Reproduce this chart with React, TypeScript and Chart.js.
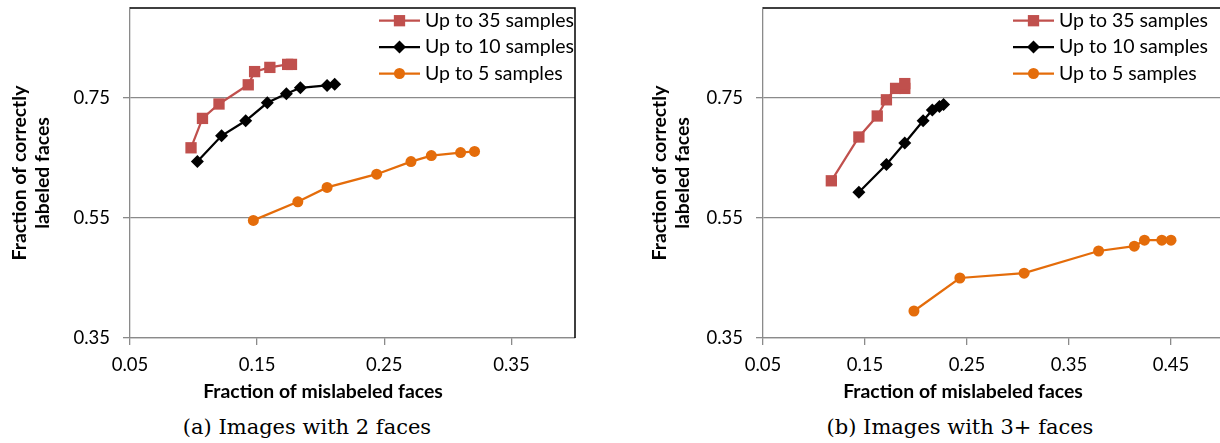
import React, { useEffect, useRef } from 'react';
import { Chart, registerables } from 'chart.js';

Chart.register(...registerables);

// ---------- data ----------
const seriesNames = ['Up to 35 samples', 'Up to 10 samples', 'Up to 5 samples'];

// (a) Images with 2 faces
const a35x = [0.098, 0.107, 0.120, 0.143, 0.148, 0.160, 0.174, 0.177];
const a35y = [0.667, 0.716, 0.740, 0.772, 0.794, 0.801, 0.806, 0.806];
const a10x = [0.103, 0.122, 0.141, 0.158, 0.173, 0.184, 0.205, 0.211];
const a10y = [0.644, 0.687, 0.712, 0.742, 0.757, 0.767, 0.771, 0.773];
const a5x = [0.147, 0.182, 0.205, 0.244, 0.271, 0.287, 0.310, 0.321];
const a5y = [0.546, 0.577, 0.601, 0.623, 0.644, 0.654, 0.659, 0.661];

// (b) Images with 3+ faces
const b35x = [0.117, 0.144, 0.162, 0.171, 0.180, 0.189, 0.189];
const b35y = [0.612, 0.685, 0.720, 0.747, 0.766, 0.766, 0.774];
const b10x = [0.144, 0.171, 0.189, 0.207, 0.216, 0.223, 0.227];
const b10y = [0.593, 0.639, 0.675, 0.712, 0.730, 0.736, 0.739];
const b5x = [0.198, 0.243, 0.306, 0.379, 0.414, 0.424, 0.441, 0.450];
const b5y = [0.395, 0.450, 0.458, 0.495, 0.503, 0.513, 0.513, 0.513];

const xTicksA = [0.05, 0.15, 0.25, 0.35];
const xTicksB = [0.05, 0.15, 0.25, 0.35, 0.45];
const yTicks = [0.35, 0.55, 0.75];

const xTitle = 'Fraction of mislabeled faces';
const yTitle = ['Fraction of correctly', 'labeled faces'];
const captionA = '(a) Images with 2 faces';
const captionB = '(b) Images with 3+ faces';

// ---------- styles ----------
const RED = '#C0504D';
const BLACK = '#000000';
const ORANGE = '#E46C0A';
const GRID = '#8a8a8a';
const FONT = 'Lato, "Noto Sans", sans-serif';

const zip = (xs: number[], ys: number[]) => xs.map((x, i) => ({ x, y: ys[i] }));

const seriesStyles = [
  { color: RED, pointStyle: 'rect', radius: 8 },
  { color: BLACK, pointStyle: 'rectRot', radius: 6.5 },
  { color: ORANGE, pointStyle: 'circle', radius: 5.5 },
];

function drawMarker(ctx: CanvasRenderingContext2D, style: string, x: number, y: number, r: number) {
  ctx.beginPath();
  if (style === 'rect') {
    const s = Math.SQRT1_2 * r;
    ctx.rect(x - s, y - s, 2 * s, 2 * s);
  } else if (style === 'rectRot') {
    ctx.moveTo(x - r, y);
    ctx.lineTo(x, y - r);
    ctx.lineTo(x + r, y);
    ctx.lineTo(x, y + r);
    ctx.closePath();
  } else {
    ctx.arc(x, y, r, 0, Math.PI * 2);
  }
  ctx.fill();
}

const framePlugin = {
  id: 'frameBorder',
  afterDatasetsDraw(chart: any) {
    const { ctx, chartArea } = chart;
    ctx.save();
    ctx.strokeStyle = '#000';
    ctx.lineWidth = 1.5;
    ctx.beginPath();
    ctx.moveTo(chartArea.left, chartArea.top);
    ctx.lineTo(chartArea.right, chartArea.top);
    ctx.lineTo(chartArea.right, chartArea.bottom);
    ctx.stroke();
    ctx.restore();
  },
};

const legendPlugin = {
  id: 'insideLegend',
  afterDraw(chart: any, _args: any, opts: any) {
    const { ctx } = chart;
    ctx.save();
    chart.data.datasets.forEach((ds: any, i: number) => {
      const st = seriesStyles[i];
      const y = opts.y + i * opts.rowHeight;
      ctx.strokeStyle = st.color;
      ctx.fillStyle = st.color;
      ctx.lineWidth = 2.25;
      ctx.beginPath();
      ctx.moveTo(opts.x, y);
      ctx.lineTo(opts.x + opts.lineLength, y);
      ctx.stroke();
      drawMarker(ctx, st.pointStyle, opts.x + opts.lineLength / 2, y, st.radius);
      ctx.fillStyle = '#000';
      ctx.font = `19.5px ${FONT}`;
      ctx.textBaseline = 'middle';
      ctx.textAlign = 'left';
      ctx.fillText(ds.label, opts.x + opts.lineLength + opts.gap, y);
    });
    ctx.restore();
  },
};

const xTitlePlugin = {
  id: 'xTitleText',
  afterDraw(chart: any, _args: any, opts: any) {
    const { ctx } = chart;
    ctx.save();
    ctx.fillStyle = '#000';
    ctx.font = `bold 19.4px ${FONT}`;
    ctx.textAlign = 'center';
    ctx.textBaseline = 'middle';
    ctx.fillText(opts.text, opts.cx, opts.y);
    ctx.restore();
  },
};

type PanelProps = {
  left: number;
  width: number;
  height: number;
  yAxisWidth: number;
  xMax: number;
  xTicks: number[];
  series: { x: number[]; y: number[] }[];
  legendX: number;
  titleCx: number;
};

function Panel(p: PanelProps) {
  const ref = useRef<HTMLCanvasElement | null>(null);
  useEffect(() => {
    if (!ref.current) return;
    const datasets = p.series.map((s, i) => ({
      label: seriesNames[i],
      data: zip(s.x, s.y),
      showLine: true,
      borderColor: seriesStyles[i].color,
      backgroundColor: seriesStyles[i].color,
      borderWidth: 2.25,
      pointStyle: seriesStyles[i].pointStyle,
      pointRadius: seriesStyles[i].radius,
      pointBorderWidth: 0,
      pointBackgroundColor: seriesStyles[i].color,
    }));
    const chart = new Chart(ref.current, {
      type: 'scatter',
      data: { datasets } as any,
      plugins: [framePlugin, legendPlugin, xTitlePlugin],
      options: {
        animation: false,
        responsive: false,
        devicePixelRatio: 1,
        layout: { padding: { top: 7, right: 2, left: 0, bottom: 0 } },
        plugins: {
          legend: { display: false },
          tooltip: { enabled: false },
          insideLegend: { x: p.legendX, y: 20.7, rowHeight: 26.4, lineLength: 41, gap: 5 },
          xTitleText: { text: xTitle, cx: p.titleCx, y: 392 },
        } as any,
        scales: {
          x: {
            type: 'linear',
            min: 0.05,
            max: p.xMax,
            afterBuildTicks: (s: any) => {
              s.ticks = p.xTicks.map((v) => ({ value: v }));
            },
            afterFit: (s: any) => {
              s.height = p.height - 338;
              s.paddingLeft = 0;
              s.paddingRight = 0;
            },
            grid: { drawOnChartArea: false, drawTicks: true, tickLength: 7, color: GRID, lineWidth: 1.3 },
            border: { color: GRID, width: 1.3 },
            ticks: {
              autoSkip: false,
              maxRotation: 0,
              padding: 9,
              color: '#000',
              font: { family: FONT, size: 18.5 },
              callback: (v: any) => Number(v).toFixed(2),
            },
          },
          y: {
            type: 'linear',
            min: 0.35,
            max: 0.9,
            afterBuildTicks: (s: any) => {
              s.ticks = yTicks.map((v) => ({ value: v }));
            },
            afterFit: (s: any) => {
              s.width = p.yAxisWidth;
              s.paddingTop = 0;
              s.paddingBottom = 0;
            },
            grid: { drawTicks: true, tickLength: 7, color: GRID, lineWidth: 1.3 },
            border: { color: GRID, width: 1.3 },
            ticks: {
              padding: 13,
              color: '#000',
              font: { family: FONT, size: 18.5 },
              callback: (v: any) => Number(v).toFixed(2),
            },
            title: {
              display: true,
              text: yTitle,
              color: '#000',
              font: { family: FONT, size: 19.4, weight: 'bold', lineHeight: 23 / 19.4 },
              padding: { top: 8.5, bottom: 0 },
            },
          },
        },
      } as any,
    });
    return () => chart.destroy();
  }, []);
  return (
    <canvas
      ref={ref}
      width={p.width}
      height={p.height}
      style={{ position: 'absolute', left: p.left, top: 0, width: p.width, height: p.height }}
    />
  );
}

const captionStyle: React.CSSProperties = {
  position: 'absolute',
  top: 413,
  width: 400,
  textAlign: 'center',
  fontFamily: '"DejaVu Serif", serif',
  fontSize: 21,
  lineHeight: '28px',
  color: '#000',
  whiteSpace: 'nowrap',
};

export default function App() {
  return (
    <div
      style={{
        position: 'absolute',
        left: 0,
        top: 0,
        width: 1220,
        height: 443,
        overflow: 'hidden',
        background: '#fff',
      }}
    >
      <Panel
        left={0}
        width={583}
        height={410}
        yAxisWidth={130}
        xMax={0.4}
        xTicks={xTicksA}
        series={[
          { x: a35x, y: a35y },
          { x: a10x, y: a10y },
          { x: a5x, y: a5y },
        ]}
        legendX={379}
        titleCx={323}
      />
      <Panel
        left={640}
        width={590}
        height={410}
        yAxisWidth={123}
        xMax={0.5}
        xTicks={xTicksB}
        series={[
          { x: b35x, y: b35y },
          { x: b10x, y: b10y },
          { x: b5x, y: b5y },
        ]}
        legendX={373}
        titleCx={323}
      />
      <div style={{ ...captionStyle, left: 307 - 200 }}>{captionA}</div>
      <div style={{ ...captionStyle, left: 960 - 200 }}>{captionB}</div>
    </div>
  );
}
